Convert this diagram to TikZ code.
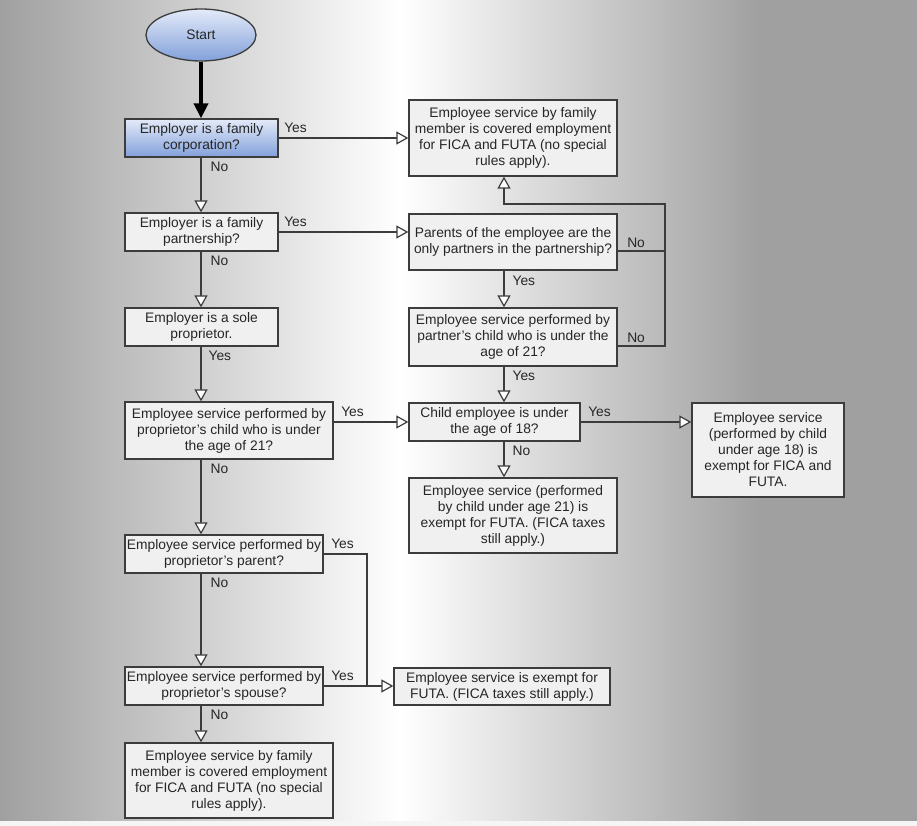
\documentclass[tikz,border=0pt]{standalone}
\usepackage{fontspec}
\setmainfont{Liberation Sans}
\usetikzlibrary{positioning,arrows.meta,shapes.geometric}
\definecolor{boxgray}{RGB}{240,240,240}
\definecolor{edgegray}{RGB}{60,60,60}
\definecolor{bggray}{RGB}{160,160,160}
\definecolor{lightblue}{RGB}{228,235,249}
\definecolor{midblue}{RGB}{130,160,218}

\begin{document}
\begin{tikzpicture}[
        x=1pt, y=-1pt,
        box/.style={draw=edgegray, line width=1.3pt, fill=boxgray, align=center, inner sep=0pt,
            font=\fontsize{13.8}{16}\selectfont, text=black!85},
        lbl/.style={font=\fontsize{13.8}{16}\selectfont, text=black!85, inner sep=2pt},
        link/.style={draw=edgegray, line width=1.2pt},
        arr/.style={link, -{Triangle[length=12pt, width=13pt, fill=white]}}
    ]
    % background
    \useasboundingbox (0,0) rectangle (917,826);
    \shade[left color=bggray, right color=white] (0,0) rectangle (400,821);
    \shade[left color=white, right color=bggray] (400,0) rectangle (760,821);
    \fill[bggray] (760,0) rectangle (917,821);
    \fill[black!4] (0,821) rectangle (917,826);

    \coordinate (lcol) at (201,0);
    \coordinate (rcol) at (504,0);
    \coordinate (turn) at (665,204);
    \coordinate (join) at (367,0);

    % nodes
    \node[ellipse, draw=edgegray, line width=1.3pt, top color=lightblue, bottom color=midblue,
        minimum width=110pt, minimum height=52pt, inner sep=0pt, font=\fontsize{13.8}{16}\selectfont,
        text=black!85] (start) at (201,35) {Start};
    \node[box, top color=lightblue, bottom color=midblue, minimum width=153pt, minimum height=38pt]
        (corp) at (201.5,138) {Employer is a family\\corporation?};
    \node[box, minimum width=208pt, minimum height=76pt] (coverA) at (513,138)
        {Employee service by family\\member is covered employment\\for FICA and FUTA (no special\\rules apply).};
    \node[box, minimum width=153pt, minimum height=38pt] (part) at (201.5,232)
        {Employer is a family\\partnership?};
    \node[box, minimum width=208pt, minimum height=56pt] (parents) at (513,242)
        {Parents of the employee are the\\only partners in the partnership?};
    \node[box, minimum width=208pt, minimum height=58pt] (partchild) at (513,337)
        {Employee service performed by\\partner's child who is under the\\age of 21?};
    \node[box, minimum width=153pt, minimum height=38pt] (sole) at (201.5,327)
        {Employer is a sole\\proprietor.};
    \node[box, minimum width=208pt, minimum height=57pt] (propchild) at (229,430.5)
        {Employee service performed by\\proprietor's child who is under\\the age of 21?};
    \node[box, minimum width=171pt, minimum height=38pt] (under18) at (494.5,422)
        {Child employee is under\\the age of 18?};
    \node[box, minimum width=152pt, minimum height=94pt] (exempt18) at (768,450)
        {Employee service\\(performed by child\\under age 18) is\\exempt for FICA and\\FUTA.};
    \node[box, minimum width=208pt, minimum height=75pt] (exempt21) at (513,515.5)
        {Employee service (performed\\by child under age 21) is\\exempt for FUTA. (FICA taxes\\still apply.)};
    \node[box, minimum width=198pt, minimum height=38pt] (parent) at (224,554)
        {Employee service performed by\\proprietor's parent?};
    \node[box, minimum width=198pt, minimum height=38pt] (spouse) at (224,686)
        {Employee service performed by\\proprietor's spouse?};
    \node[box, minimum width=216pt, minimum height=37pt] (futa) at (502,686.5)
        {Employee service is exempt for\\FUTA. (FICA taxes still apply.)};
    \node[box, minimum width=208pt, minimum height=75pt] (coverB) at (229,780.5)
        {Employee service by family\\member is covered employment\\for FICA and FUTA (no special\\rules apply).};

    % connectors
    \draw[line width=4pt, -{Triangle[length=15pt, width=14pt]}] (start.south) -- (start.south |- corp.north);
    \draw[arr] (corp.east) -- (corp.east -| coverA.west)
        node[lbl, pos=0, anchor=west, xshift=3pt, yshift=10pt] {Yes};
    \draw[arr] (corp.south -| lcol) -- (part.north -| lcol)
        node[lbl, pos=0, anchor=west, xshift=7pt, yshift=-9pt] {No};
    \draw[arr] (part.east) -- (part.east -| parents.west)
        node[lbl, pos=0, anchor=west, xshift=3pt, yshift=10pt] {Yes};
    \draw[arr] (part.south -| lcol) -- (sole.north -| lcol)
        node[lbl, pos=0, anchor=west, xshift=7pt, yshift=-9pt] {No};
    \draw[arr] (sole.south -| lcol) -- (propchild.north -| lcol)
        node[lbl, pos=0, anchor=west, xshift=5pt, yshift=-9pt] {Yes};
    \draw[arr] (under18.west -| propchild.east) -- (under18.west)
        node[lbl, pos=0, anchor=west, xshift=5pt, yshift=10pt] {Yes};
    \draw[arr] (propchild.south -| lcol) -- (parent.north -| lcol)
        node[lbl, pos=0, anchor=west, xshift=7pt, yshift=-9pt] {No};
    \draw[arr] (parent.south -| lcol) -- (spouse.north -| lcol)
        node[lbl, pos=0, anchor=west, xshift=7pt, yshift=-9pt] {No};
    \draw[arr] (spouse.south -| lcol) -- (coverB.north -| lcol)
        node[lbl, pos=0, anchor=west, xshift=7pt, yshift=-9pt] {No};
    \draw[link] (parent.east) -- (parent.east -| join)
        node[lbl, pos=0, anchor=west, xshift=5pt, yshift=10pt] {Yes}
        -- (join |- spouse.east);
    \draw[arr] (spouse.east) -- (spouse.east -| futa.west)
        node[lbl, pos=0, anchor=west, xshift=5pt, yshift=10pt] {Yes};
    \draw[arr] (parents.south -| rcol) -- (partchild.north -| rcol)
        node[lbl, pos=0, anchor=west, xshift=6pt, yshift=-10pt] {Yes};
    \draw[arr] (partchild.south -| rcol) -- (under18.north -| rcol)
        node[lbl, pos=0, anchor=west, xshift=6pt, yshift=-9pt] {Yes};
    \draw[arr] (under18.east) -- (under18.east -| exempt18.west)
        node[lbl, pos=0, anchor=west, xshift=5pt, yshift=10pt] {Yes};
    \draw[arr] (under18.south -| rcol) -- (exempt21.north -| rcol)
        node[lbl, pos=0, anchor=west, xshift=6pt, yshift=-9pt] {No};
    \draw[link] ([yshift=-9pt]parents.east) -- ([yshift=-9pt]parents.east -| turn)
        node[lbl, pos=0, anchor=west, xshift=7pt, yshift=8pt] {No};
    \draw[arr] ([yshift=-9pt]partchild.east) -- ([yshift=-9pt]partchild.east -| turn)
        node[lbl, pos=0, anchor=west, xshift=7pt, yshift=8pt] {No}
        -- (turn) -- (turn -| rcol) -- (coverA.south -| rcol);
\end{tikzpicture}
\end{document}
